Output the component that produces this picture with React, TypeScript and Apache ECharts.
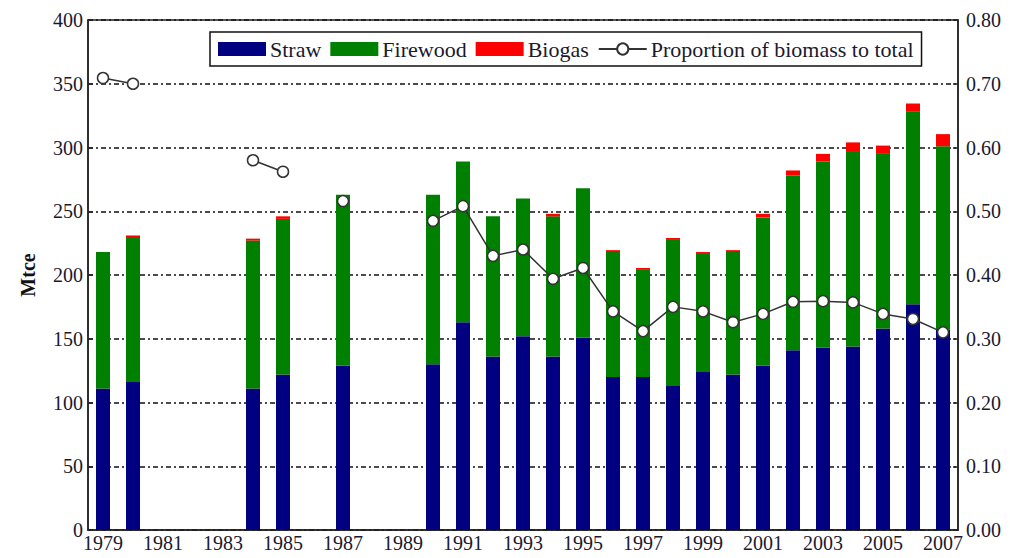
import React, { useEffect, useRef } from "react";
import * as echarts from "echarts";

const years = [
  "1979","1980","1981","1982","1983","1984","1985","1986","1987","1988","1989",
  "1990","1991","1992","1993","1994","1995","1996","1997","1998","1999","2000",
  "2001","2002","2003","2004","2005","2006","2007",
];
const straw = [
  111, 116, null, null, null, 111, 122, null, 129, null, null,
  130, 163, 136, 152, 136, 151, 120, 120, 113, 124, 122,
  129, 141, 143, 144, 158, 177, 157,
];
const firewood = [
  107, 113, null, null, null, 116, 122, null, 134, null, null,
  133, 126, 110, 108, 110, 117, 98, 84, 114.5, 92.5, 96,
  116, 137, 146, 152.5, 137, 151, 144,
];
const biogas = [
  0, 2, null, null, null, 1.5, 2, null, 0, null, null,
  0, 0, 0, 0, 2, 0, 1.5, 1.5, 1.5, 1.5, 1.5,
  3, 4, 6, 7.5, 6.5, 6.5, 9.5,
];
const proportion = [
  0.709, 0.70, null, null, null, 0.58, 0.562, null, 0.516, null, null,
  0.485, 0.508, 0.43, 0.44, 0.394, 0.411, 0.343, 0.312, 0.35, 0.343, 0.326,
  0.339, 0.358, 0.359, 0.357, 0.339, 0.331, 0.31,
];

const FONT = "'Liberation Serif', 'Times New Roman', 'DejaVu Serif', serif";

export default function App() {
  const ref = useRef<HTMLDivElement>(null);
  useEffect(() => {
    if (!ref.current) return;
    const chart = echarts.init(ref.current, null, { renderer: "svg" });
    const txt = { fontFamily: FONT, fontSize: 20, color: "#1a1a2e" };
    chart.setOption({
      animation: false,
      textStyle: { fontFamily: FONT },
      grid: { left: 88, right: 52, top: 20, bottom: 28, show: true, borderColor: "#222", borderWidth: 1.5 },
      legend: {
        left: 210,
        top: 32,
        padding: [6, 8, 6, 8],
        borderColor: "#111",
        borderWidth: 1.5,
        itemGap: 9,
        itemWidth: 48,
        itemHeight: 14,
        textStyle: { ...txt, fontSize: 22, padding: [0, 0, 0, -1] },
        data: [
          { name: "Straw", icon: "rect" },
          { name: "Firewood", icon: "rect" },
          { name: "Biogas", icon: "rect" },
          { name: "Proportion of biomass to total" },
        ],
      },
      xAxis: {
        type: "category",
        data: years,
        boundaryGap: true,
        axisLine: { lineStyle: { color: "#222", width: 1.5 } },
        axisTick: { inside: true, interval: 0, length: 5, lineStyle: { color: "#222", width: 1.5 } },
        axisLabel: { ...txt, interval: 1, margin: 3 },
        splitLine: { show: false },
      },
      yAxis: [
        {
          type: "value",
          min: 0,
          max: 400,
          interval: 50,
          name: "Mtce",
          nameLocation: "middle",
          nameGap: 50,
          nameRotate: 90,
          nameTextStyle: { fontFamily: FONT, fontSize: 20, fontWeight: "bold", color: "#111" },
          axisLine: { show: true, lineStyle: { color: "#222", width: 1.5 } },
          axisTick: { show: true, inside: true, length: 5, lineStyle: { color: "#222", width: 1.5 } },
          axisLabel: { ...txt, margin: 5 },
          splitLine: { show: true, lineStyle: { color: "#111", width: 1.5, type: [5, 3, 2, 3] } },
        },
        {
          type: "value",
          min: 0,
          max: 0.8,
          interval: 0.1,
          axisLine: { show: true, lineStyle: { color: "#222", width: 1.5 } },
          axisTick: { show: true, inside: true, length: 5, lineStyle: { color: "#222", width: 1.5 } },
          axisLabel: { ...txt, margin: 8, formatter: (v: number) => v.toFixed(2) },
          splitLine: { show: false },
        },
      ],
      series: [
        { name: "Straw", type: "bar", stack: "t", data: straw, barWidth: 14, itemStyle: { color: "#000080" } },
        { name: "Firewood", type: "bar", stack: "t", data: firewood, barWidth: 14, itemStyle: { color: "#008000" } },
        { name: "Biogas", type: "bar", stack: "t", data: biogas, barWidth: 14, itemStyle: { color: "#ff0000" } },
        {
          name: "Proportion of biomass to total",
          type: "line",
          yAxisIndex: 1,
          data: proportion,
          connectNulls: false,
          symbol: "circle",
          symbolSize: 11,
          showSymbol: true,
          lineStyle: { color: "#333", width: 1.5 },
          itemStyle: { color: "#fff", borderColor: "#333", borderWidth: 1.5 },
          z: 5,
        },
      ],
    });
    return () => chart.dispose();
  }, []);
  return <div ref={ref} style={{ width: 1010, height: 558, position: "absolute", left: 0, top: 0 }} />;
}
